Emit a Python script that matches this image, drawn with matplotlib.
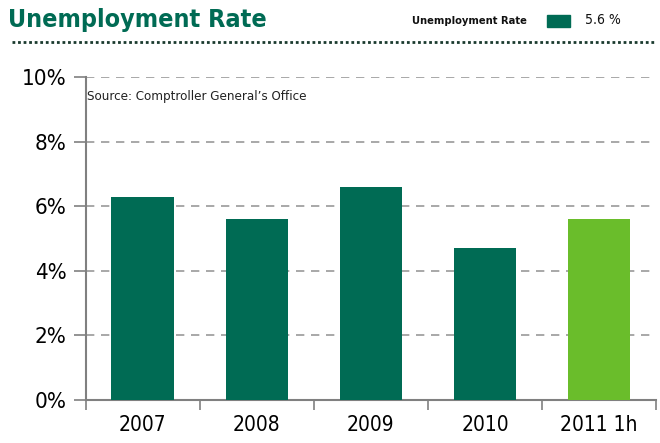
import matplotlib
matplotlib.use("Agg")
import matplotlib.pyplot as plt
from matplotlib.patches import Rectangle
from matplotlib.lines import Line2D

categories = ["2007", "2008", "2009", "2010", "2011 1h"]
rates = [6.3, 5.6, 6.6, 4.7, 5.6]
bar_colors = ["#006B54", "#006B54", "#006B54", "#006B54", "#6ABD2B"]
yticks = [0, 2, 4, 6, 8, 10]
ytick_labels = ["0%", "2%", "4%", "6%", "8%", "10%"]

plt.rcParams['font.family'] = ['DejaVu Sans']
plt.rcParams['font.stretch'] = 'condensed'

fig = plt.figure(figsize=(6.6, 4.43), dpi=100)
ax = fig.add_axes([0.130, 0.097, 0.864, 0.729])

x = list(range(len(categories)))
ax.bar(x, rates, width=0.55, color=bar_colors, zorder=3)

ax.set_xlim(-0.5, len(categories) - 0.5)
ax.set_ylim(0, 10)
ax.set_yticks(yticks)
ax.set_yticklabels(ytick_labels, fontsize=16)
ax.set_xticks([i - 0.5 for i in range(len(categories) + 1)])
ax.set_xticklabels([])
ax.set_xticks(x, minor=True)
ax.set_xticklabels(categories, minor=True, fontsize=15)
ax.tick_params(axis='x', which='minor', length=0, pad=11)
ax.tick_params(axis='x', which='major', length=7, color='#808080', width=1.2)
ax.tick_params(axis='y', length=9, color='#808080', width=1.2, direction='out', pad=5)

ax.yaxis.grid(True, linestyle=(0, (5, 4)), color='#999999', linewidth=1.2, zorder=0)
for s in ['top', 'right']:
    ax.spines[s].set_visible(False)
for s in ['left', 'bottom']:
    ax.spines[s].set_color('#808080')
    ax.spines[s].set_linewidth(1.5)

ax.text(-0.49, 9.4, "Source: Comptroller General\u2019s Office", fontsize=9.5,
        va='center', ha='left', color='#222222')

# header
fig.text(0.012, 0.955, "Unemployment Rate", fontsize=18, fontweight='bold',
         color='#006B54', va='center', ha='left')
fig.text(0.625, 0.952, "Unemployment Rate", fontsize=8, fontweight='bold',
         color='#111111', va='center', ha='left')
fig.patches.append(Rectangle((0.829, 0.940), 0.035, 0.027, transform=fig.transFigure,
                             color='#006B54', figure=fig))
fig.text(0.886, 0.955, "5.6 %", fontsize=10, color='#111111', va='center', ha='left')
fig.lines.append(Line2D([0.018, 0.993], [0.905, 0.905], transform=fig.transFigure,
                        color='#1a3a2e', linestyle=(0, (1, 1)), linewidth=2, figure=fig))

fig.savefig("out.png", dpi=100)
